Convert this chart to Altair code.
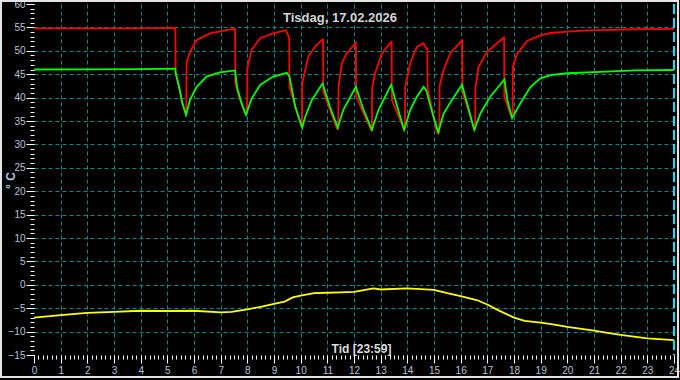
import altair as alt
import pandas as pd

# --- data -------------------------------------------------------------------
red_h = [0, 2.0, 4.0, 5.30, 5.31, 5.45, 5.55, 5.66, 5.71, 5.72, 5.85, 6.10, 6.60, 7.22, 7.50,
         7.54, 7.55, 7.70, 7.91, 7.99, 8.00, 8.16, 8.48, 8.96, 9.45, 9.57, 9.58, 10.02, 10.05,
         10.06, 10.17, 10.29, 10.54, 10.81, 10.84, 10.85, 11.36, 11.41, 11.42, 11.54, 11.73,
         12.07, 12.08, 12.64, 12.67, 12.68, 12.79, 13.05, 13.39, 13.41, 13.42, 13.86, 13.91,
         13.92, 14.11, 14.36, 14.61, 14.71, 14.75, 14.76, 15.11, 15.20, 15.21, 15.36, 15.61,
         16.05, 16.06, 16.07, 16.51, 16.54, 16.55, 16.67, 16.99, 17.61, 17.63, 17.64, 17.90,
         17.95, 17.96, 18.11, 18.49, 18.99, 19.37, 20.0, 20.6, 21.24, 22.5, 24.0]
red_v = [54.8, 54.8, 54.8, 54.9, 45.3, 42.3, 39.1, 37.0, 36.7, 47.4, 49.8, 52.3, 53.7, 54.4, 54.7,
         54.7, 43.1, 40.0, 36.7, 36.6, 46.3, 50.2, 52.7, 53.7, 54.4, 52.7, 42.3, 33.8, 33.8,
         43.1, 45.9, 48.7, 50.9, 52.4, 52.4, 41.3, 33.4, 33.4, 42.3, 47.3, 49.5,
         51.7, 40.2, 33.1, 33.1, 42.0, 45.2, 49.5, 51.9, 51.9, 39.5, 33.4, 33.4,
         42.3, 47.4, 50.9, 51.6, 50.5, 50.4, 42.0, 32.6, 32.6, 42.5, 45.9, 49.5,
         52.2, 52.2, 41.3, 33.2, 33.2, 42.0, 46.6, 49.8, 52.8, 52.8, 40.2, 35.9,
         35.9, 46.6, 49.3, 52.1, 53.3, 53.8, 54.1, 54.3, 54.4, 54.6, 54.7]

green_h = [0, 2.0, 4.0, 5.30, 5.31, 5.45, 5.55, 5.70, 5.85, 6.10, 6.47, 6.97, 7.54, 7.62, 7.80,
           7.95, 8.16, 8.48, 8.97, 9.48, 9.58, 9.80, 10.06, 10.17, 10.42, 10.82, 11.10, 11.39,
           11.60, 12.07, 12.35, 12.67, 12.92, 13.39, 13.65, 13.88, 14.11, 14.36, 14.61, 14.71,
           14.95, 15.16, 15.36, 15.67, 16.05, 16.30, 16.51, 16.74, 17.11, 17.64, 17.75, 17.93,
           18.24, 18.62, 18.99, 19.37, 20.0, 21.24, 22.5, 24.0]
green_v = [46.0, 46.05, 46.1, 46.2, 45.3, 42.0, 39.1, 36.3, 39.5, 42.3, 44.5, 45.4, 45.8, 42.0, 38.5,
           36.3, 39.8, 42.7, 44.5, 45.3, 44.5, 38.0, 33.6, 35.9, 39.5, 43.0, 38.0, 33.6,
           37.4, 42.3, 37.5, 33.1, 37.4, 42.7, 37.5, 33.1, 37.4, 40.2, 42.3, 41.6,
           36.5, 32.6, 36.6, 39.5, 42.7, 37.5, 33.1, 36.6, 40.2, 43.9, 39.5, 35.6,
           38.8, 42.3, 44.1, 44.8, 45.2, 45.5, 45.8, 45.9]

yellow_h = [0, 1, 2, 3, 4, 5, 6, 7, 7.4, 8, 8.5, 9, 9.4, 9.7, 10, 10.5, 11, 11.5, 12, 12.73, 13,
            14, 15, 15.5, 16, 16.6, 17, 17.4, 18, 18.4, 19, 19.4, 20, 21, 21.5, 22, 23, 24]
yellow_v = [-7.0, -6.5, -6.0, -5.8, -5.55, -5.6, -5.55, -5.9, -5.8, -5.25, -4.7, -4.1, -3.6, -2.7,
            -2.3, -1.8, -1.7, -1.6, -1.5, -0.75, -1.0, -0.75, -1.1, -1.8, -2.4, -3.25, -4.2, -5.4,
            -7.0, -7.7, -8.1, -8.4, -9.0, -9.8, -10.25, -10.7, -11.45, -11.8]

title_text = "Tisdag, 17.02.2026"
x_title = "Tid [23:59]"
y_title = "° C"
x_ticks = list(range(0, 25))
y_ticks = list(range(-15, 61, 5))
x_minor = [i / 6 for i in range(0, 24 * 6 + 1)]
y_minor = list(range(-15, 61))

rows = []
for name, hs, vs in (("red", red_h, red_v), ("green", green_h, green_v), ("yellow", yellow_h, yellow_v)):
    for i, (h, v) in enumerate(zip(hs, vs)):
        rows.append({"series": name, "h": h, "v": v, "order": i})
df = pd.DataFrame(rows)

LABEL = "#b8c4d8"
FONT = "Liberation Sans"
GRID = "#008c8c"

xscale = alt.Scale(domain=[0, 24], nice=False, zero=False)
yscale = alt.Scale(domain=[-15, 60], nice=False, zero=False)

grid_x_op = {"condition": {"test": "datum.value <= 0 || datum.value >= 24", "value": 0}, "value": 1}
grid_y_op = {"condition": {"test": "datum.value <= -15 || datum.value >= 60", "value": 0}, "value": 1}

x_axis = alt.Axis(values=x_ticks, title=x_title, grid=True, gridColor=GRID, gridDash=[4, 3],
                  gridOpacity=grid_x_op, domain=False, tickColor="#ffffff", tickSize=8,
                  labelColor=LABEL, labelFont=FONT, labelFontSize=10, labelPadding=2,
                  labelFlush=False, labelOverlap=False,
                  titleColor="#dcdcdc", titleFont=FONT, titleFontSize=12, titleFontWeight="bold",
                  titleX=327, titleY=-7, titleBaseline="middle", titleAlign="center")
y_axis = alt.Axis(values=y_ticks, title=y_title, grid=True, gridColor=GRID, gridDash=[4, 3],
                  gridOpacity=grid_y_op, domain=False, tickColor="#ffffff", tickSize=8,
                  labelColor=LABEL, labelFont=FONT, labelFontSize=10, labelPadding=1,
                  labelFlush=False, labelOverlap=False,
                  titleColor=LABEL, titleFont=FONT, titleFontSize=12, titleFontWeight="bold",
                  titleAngle=-90, titleX=-24, titleY=176, titleBaseline="middle", titleAlign="center")

lines = alt.Chart(df).mark_line(strokeWidth=1.8, interpolate="linear").encode(
    x=alt.X("h:Q", scale=xscale, axis=x_axis),
    y=alt.Y("v:Q", scale=yscale, axis=y_axis),
    color=alt.Color("series:N", scale=alt.Scale(domain=["red", "green", "yellow"],
                                                range=["#ff0000", "#00ff00", "#ffff00"]), legend=None),
    detail="series:N",
    order="order:Q",
)

minor = alt.Chart(pd.DataFrame({"h": [0, 24], "v": [-15, 60]})).mark_point(opacity=0).encode(
    x=alt.X("h:Q", scale=xscale, axis=alt.Axis(values=x_minor, orient="bottom", labels=False, title=None,
                                               grid=False, domain=False, tickColor="#ffffff", tickSize=4)),
    y=alt.Y("v:Q", scale=yscale, axis=alt.Axis(values=y_minor, orient="left", labels=False, title=None,
                                               grid=False, domain=False, tickColor="#ffffff", tickSize=4)),
)

marker = alt.Chart(pd.DataFrame({"h": [24]})).mark_rule(color="#00e5ff", strokeWidth=2,
                                                        strokeDash=[10, 4]).encode(
    x=alt.X("h:Q", scale=xscale, axis=None))

frame = alt.Chart(pd.DataFrame({"a": [0]})).mark_rect(filled=False, stroke="#e4e4e4", strokeWidth=2).encode(
    x=alt.value(-33), x2=alt.value(644), y=alt.value(-3), y2=alt.value(373))

title = alt.Chart(pd.DataFrame({"t": [title_text]})).mark_text(
    color="#d4d4d4", font=FONT, fontSize=13, fontWeight="bold", baseline="middle", align="center"
).encode(text="t:N", x=alt.value(306), y=alt.value(14))

chart = alt.layer(lines, minor, marker, frame, title).resolve_axis(x="independent", y="independent").properties(
    width=640, height=351,
    autosize=alt.AutoSizeParams(type="none"),
    padding={"left": 34, "top": 4, "right": 6, "bottom": 25},
    background="#000000",
).configure_view(stroke=None, fill="#000000")

chart.save("out.html", embed_options={"renderer": "svg", "actions": False})
